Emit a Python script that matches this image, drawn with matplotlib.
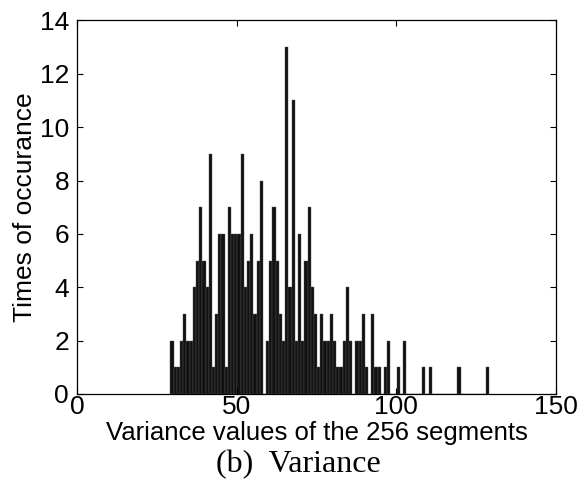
# histogram of segment variances, matlab-ish look
import numpy as np
import matplotlib
matplotlib.use("Agg")
import matplotlib.pyplot as plt

# hist(x, 100): bins start at the minimum variance, width 1
bin_start = 29.2
bin_width = 1.0
counts = [2, 1, 1, 2, 3, 2, 2, 4, 5, 7,      # 29-38
          5, 4, 9, 1, 3, 6, 6, 1, 7, 6,      # 39-48
          6, 6, 9, 4, 5, 6, 3, 5, 8, 0,      # 49-58
          2, 5, 7, 5, 3, 2, 13, 4, 11, 2,    # 59-68
          6, 2, 5, 7, 4, 3, 1, 3, 2, 2,      # 69-78
          3, 2, 1, 1, 2, 4, 2, 0, 2, 2,      # 79-88
          3, 1, 0, 3, 1, 1, 0, 1, 2, 0,      # 89-98
          0, 1, 0, 2, 0, 0, 0, 0, 0, 1,      # 99-108
          0, 1, 0, 0, 0, 0, 0, 0, 0, 0,      # 109-118
          1, 0, 0, 0, 0, 0, 0, 0, 0, 1]      # 119-128

x_ticks = [0, 50, 100, 150]
y_ticks = [0, 2, 4, 6, 8, 10, 12, 14]

plt.rcParams['font.family'] = ['Liberation Sans', 'DejaVu Sans']

fig = plt.figure(figsize=(5.86, 4.82), dpi=100)
ax = fig.add_axes([0.132, 0.1826, 0.816, 0.775])

lefts = bin_start + bin_width * np.arange(len(counts))
ax.bar(lefts, counts, width=bin_width, align='edge',
       color='#111111', edgecolor='#555555', linewidth=0.3)

ax.set_xlim(0, 150)
ax.set_ylim(0, 14)
ax.set_xticks(x_ticks)
ax.set_yticks(y_ticks)
ax.tick_params(direction='in', top=True, right=True, length=4,
               width=0.8, labelsize=19)
ax.tick_params(axis='y', pad=6)
ax.tick_params(axis='x', pad=1)
for s in ax.spines.values():
    s.set_linewidth(0.9)

ax.set_xlabel('Variance values of the 256 segments', fontsize=18.5, labelpad=1)
ax.set_ylabel('Times of occurance', fontsize=19, labelpad=2)

fig.text(0.51, 0.036, '(b)  Variance', ha='center', va='center',
         fontsize=23, family='Liberation Serif')

fig.savefig('out.png', dpi=100)
